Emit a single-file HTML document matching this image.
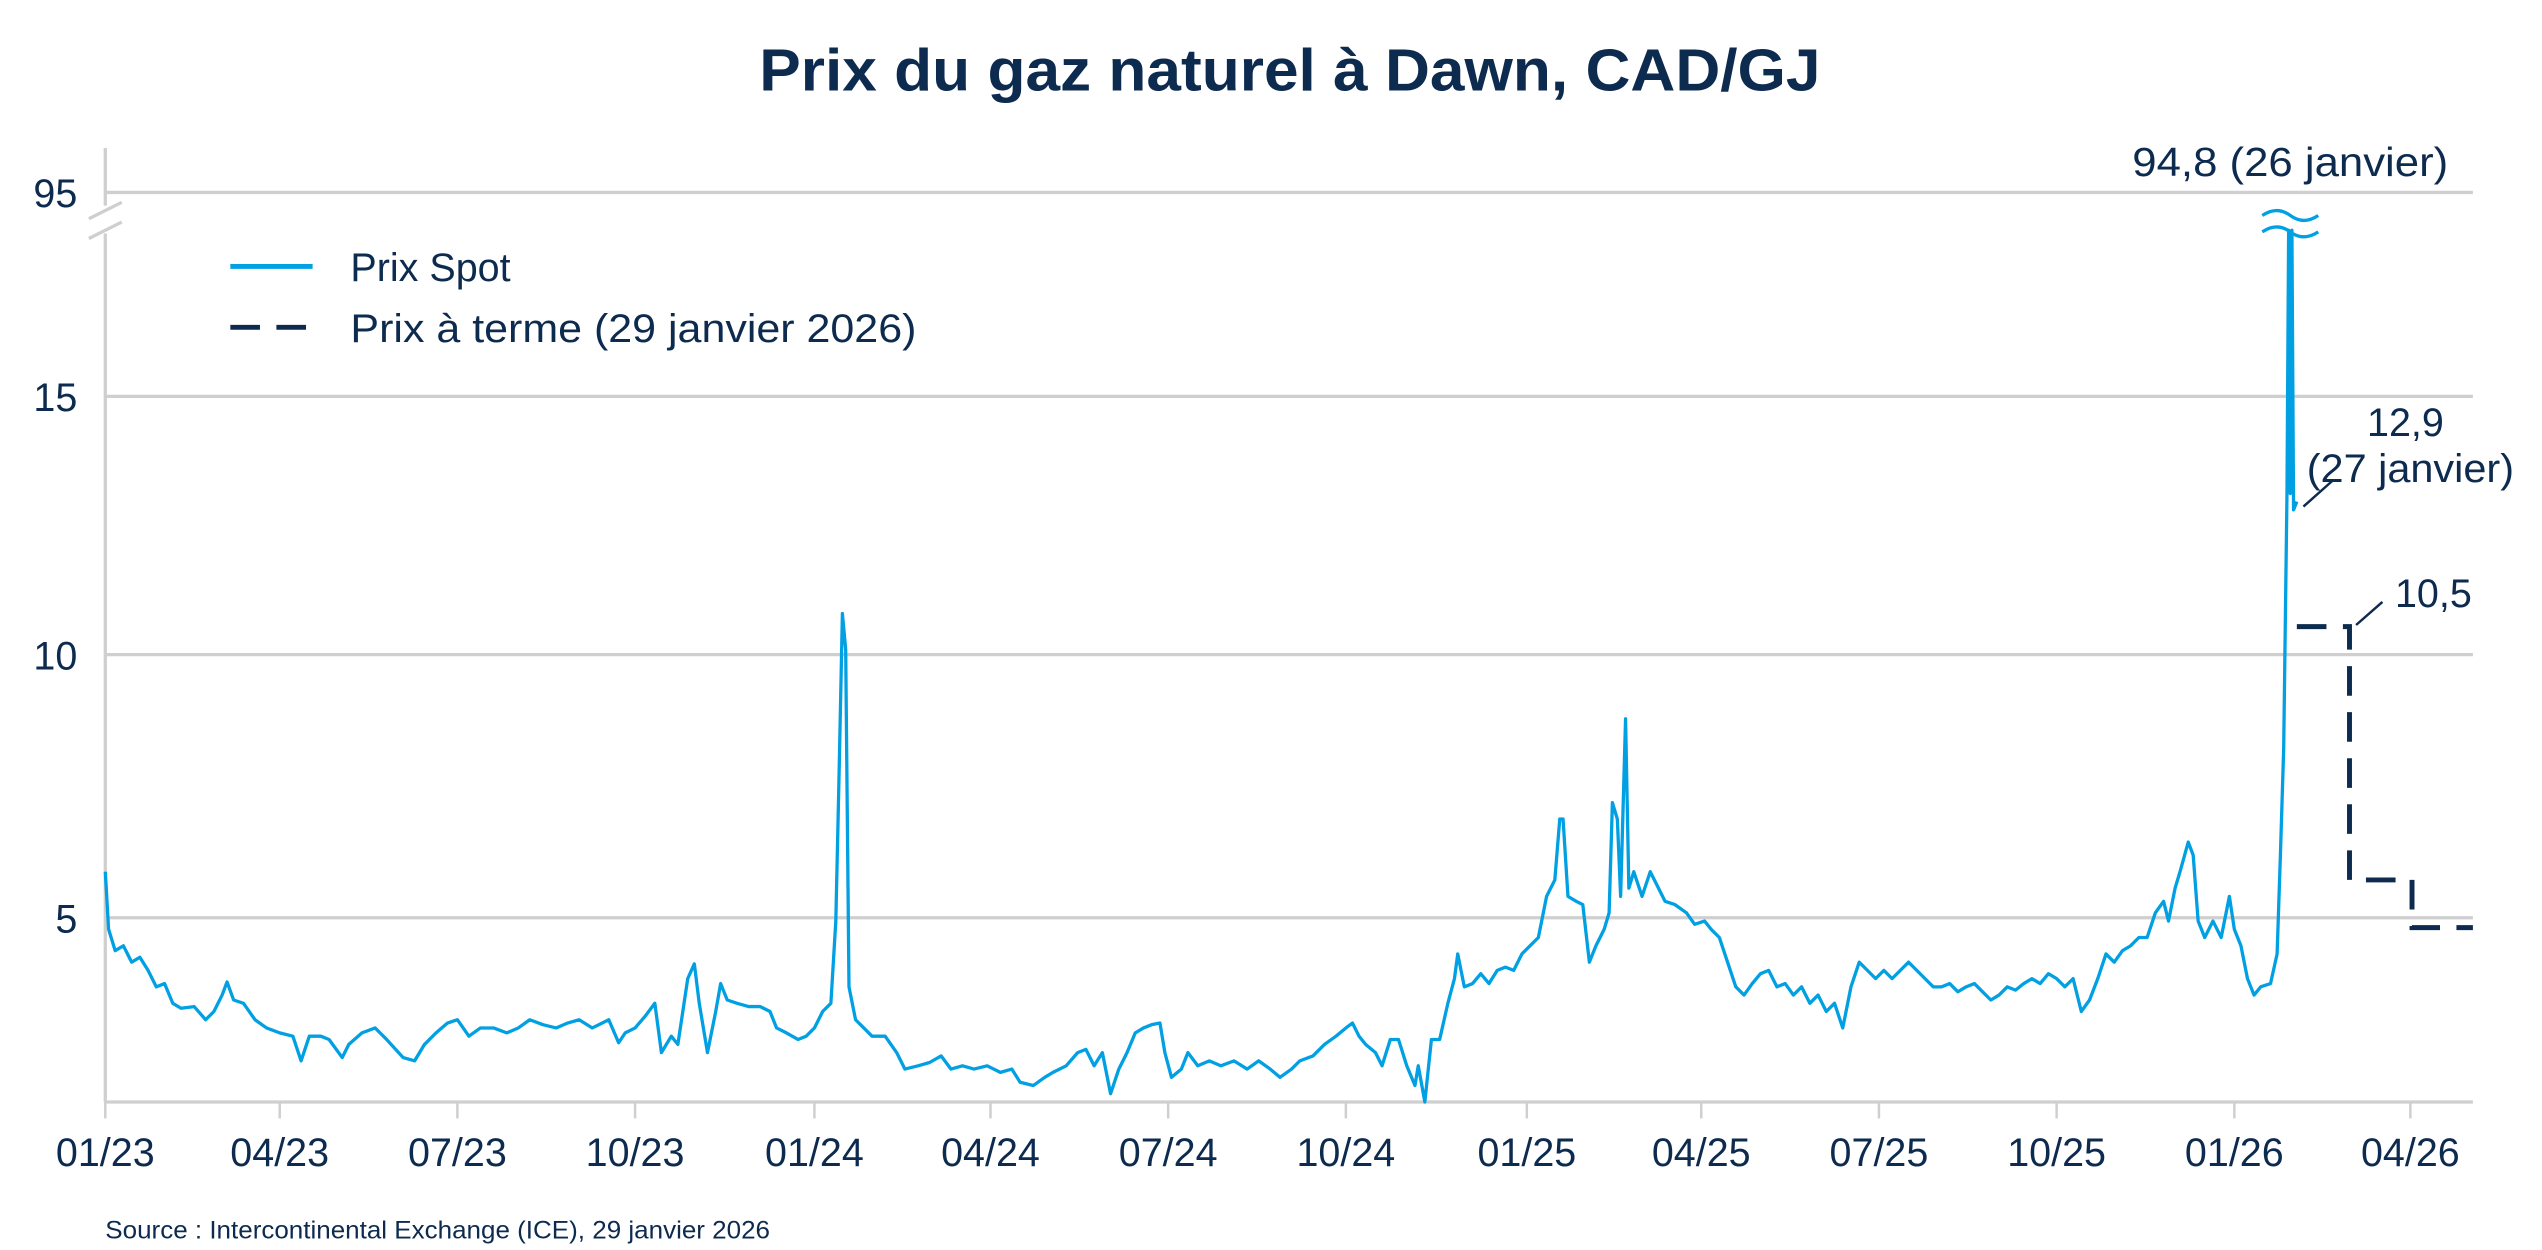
<!DOCTYPE html>
<html><head><meta charset="utf-8"><style>
html,body{margin:0;padding:0;background:#fff}
svg{display:block}
text{font-family:"Liberation Sans",sans-serif;fill:#0d2a4f}
</style></head><body>
<svg width="2542" height="1250" viewBox="0 0 1545 760" preserveAspectRatio="none">
<text x="784" y="55" text-anchor="middle" font-size="36" font-weight="bold" textLength="645" lengthAdjust="spacingAndGlyphs">Prix du gaz naturel à Dawn, CAD/GJ</text>
<g stroke="#cfcfcf" stroke-width="2">
<line x1="64" y1="117" x2="1503" y2="117"/>
<line x1="64" y1="241" x2="1503" y2="241"/>
<line x1="64" y1="398" x2="1503" y2="398"/>
<line x1="64" y1="558" x2="1503" y2="558"/>
<line x1="64" y1="670" x2="1503" y2="670"/>
<line x1="64" y1="90" x2="64" y2="125"/>
<line x1="64" y1="142" x2="64" y2="670"/>
<line x1="54" y1="133" x2="74" y2="123"/>
<line x1="54" y1="145" x2="74" y2="135"/>
</g>
<g stroke="#cfcfcf" stroke-width="1.5">
<line x1="170" y1="670" x2="170" y2="680"/><line x1="278" y1="670" x2="278" y2="680"/><line x1="386" y1="670" x2="386" y2="680"/><line x1="495" y1="670" x2="495" y2="680"/><line x1="602" y1="670" x2="602" y2="680"/><line x1="710" y1="670" x2="710" y2="680"/><line x1="818" y1="670" x2="818" y2="680"/><line x1="928" y1="670" x2="928" y2="680"/><line x1="1034" y1="670" x2="1034" y2="680"/><line x1="1142" y1="670" x2="1142" y2="680"/><line x1="1250" y1="670" x2="1250" y2="680"/><line x1="1358" y1="670" x2="1358" y2="680"/><line x1="1465" y1="670" x2="1465" y2="680"/><line x1="64" y1="670" x2="64" y2="680"/>
</g>
<g font-size="24" text-anchor="end">
<text x="47" y="126">95</text><text x="47" y="250">15</text><text x="47" y="407">10</text><text x="47" y="567">5</text>
</g>
<g font-size="24" text-anchor="middle">
<text x="64" y="709">01/23</text><text x="170" y="709">04/23</text><text x="278" y="709">07/23</text><text x="386" y="709">10/23</text><text x="495" y="709">01/24</text><text x="602" y="709">04/24</text><text x="710" y="709">07/24</text><text x="818" y="709">10/24</text><text x="928" y="709">01/25</text><text x="1034" y="709">04/25</text><text x="1142" y="709">07/25</text><text x="1250" y="709">10/25</text><text x="1358" y="709">01/26</text><text x="1465" y="709">04/26</text>
</g>
<line x1="140" y1="162" x2="190" y2="162" stroke="#00a0e3" stroke-width="3"/>
<text x="213" y="171" font-size="24">Prix Spot</text>
<line x1="140" y1="199" x2="190" y2="199" stroke="#0d2a4f" stroke-width="3" stroke-dasharray="18,10"/>
<text x="213" y="208" font-size="24" textLength="344" lengthAdjust="spacingAndGlyphs">Prix à terme (29 janvier 2026)</text>
<polyline fill="none" stroke="#00a0e3" stroke-width="2" stroke-linejoin="round" points="64,530 66,565 70,578 75,575 80,585 85,582 90,590 95,600 100,598 105,610 110,613 118,612 125,620 130,615 135,605 138,597 142,608 148,610 155,620 162,625 170,628 178,630 183,645 188,630 195,630 200,632 208,643 212,635 220,628 228,625 235,632 245,643 252,645 258,635 265,628 272,622 278,620 285,630 292,625 300,625 308,628 315,625 322,620 330,623 338,625 345,622 352,620 360,625 370,620 376,634 380,628 386,625 392,618 398,610 402,640 408,630 412,635 418,595 422,586 425,610 430,640 435,615 438,598 442,608 448,610 455,612 462,612 468,615 472,625 478,628 485,632 490,630 495,625 500,615 505,610 508,560 510,470 512,373 514,395 516,600 520,620 525,625 530,630 538,630 545,640 550,650 558,648 565,646 572,642 578,650 585,648 592,650 600,648 608,652 615,650 620,658 628,660 635,655 640,652 648,648 655,640 660,638 665,648 670,640 675,665 680,650 685,640 690,628 695,625 700,623 705,622 708,640 712,655 718,650 722,640 728,648 735,645 742,648 750,645 758,650 765,645 772,650 778,655 785,650 790,645 798,642 805,635 812,630 818,625 822,622 826,630 830,635 836,640 840,648 845,632 850,632 855,648 860,660 862,648 866,670 870,632 875,632 880,610 884,595 886,580 890,600 895,598 900,592 905,598 910,590 915,588 920,590 925,580 930,575 935,570 940,545 945,535 948,498 950,498 953,545 958,548 962,550 966,585 970,575 975,565 978,555 980,488 983,498 985,545 988,437 990,540 993,530 998,545 1003,530 1008,540 1012,548 1018,550 1025,555 1030,562 1036,560 1040,565 1045,570 1050,585 1055,600 1060,605 1065,598 1070,592 1075,590 1080,600 1085,598 1090,605 1095,600 1100,610 1105,605 1110,615 1115,610 1120,625 1125,600 1130,585 1135,590 1140,595 1145,590 1150,595 1155,590 1160,585 1165,590 1170,595 1175,600 1180,600 1185,598 1190,603 1195,600 1200,598 1205,603 1210,608 1215,605 1220,600 1225,602 1230,598 1235,595 1240,598 1245,592 1250,595 1255,600 1260,595 1265,615 1270,608 1275,595 1280,580 1285,585 1290,578 1295,575 1300,570 1305,570 1310,555 1315,548 1318,560 1322,540 1325,530 1330,512 1333,520 1336,560 1340,570 1345,560 1350,570 1355,545 1358,565 1362,575 1366,595 1370,605 1374,600 1380,598 1384,580 1386,520 1388,455 1390,300 1391,140 1392,300 1393,140 1394,310 1396,305"/>
<g stroke="#00a0e3" stroke-width="2" fill="none">
<path d="M1375,131 q9,-6 17,0 t17,0"/>
<path d="M1375,141 q9,-6 17,0 t17,0"/>
</g>
<polyline fill="none" stroke="#0d2a4f" stroke-width="3" stroke-dasharray="18,10" points="1396,381 1428,381 1428,535 1466,535 1466,564 1503,564"/>
<text x="1392" y="107" font-size="25" text-anchor="middle" textLength="192" lengthAdjust="spacingAndGlyphs">94,8 (26 janvier)</text>
<text x="1462" y="265" font-size="24" text-anchor="middle">12,9</text>
<text x="1465" y="293" font-size="24" text-anchor="middle" textLength="126" lengthAdjust="spacingAndGlyphs">(27 janvier)</text>
<line x1="1400" y1="308" x2="1418" y2="292" stroke="#0d2a4f" stroke-width="1.5"/>
<text x="1479" y="369" font-size="24" text-anchor="middle">10,5</text>
<line x1="1432" y1="380" x2="1448" y2="366" stroke="#0d2a4f" stroke-width="1.5"/>
<text x="64" y="753" font-size="15" textLength="404" lengthAdjust="spacingAndGlyphs">Source : Intercontinental Exchange (ICE), 29 janvier 2026</text>
</svg>
</body></html>
